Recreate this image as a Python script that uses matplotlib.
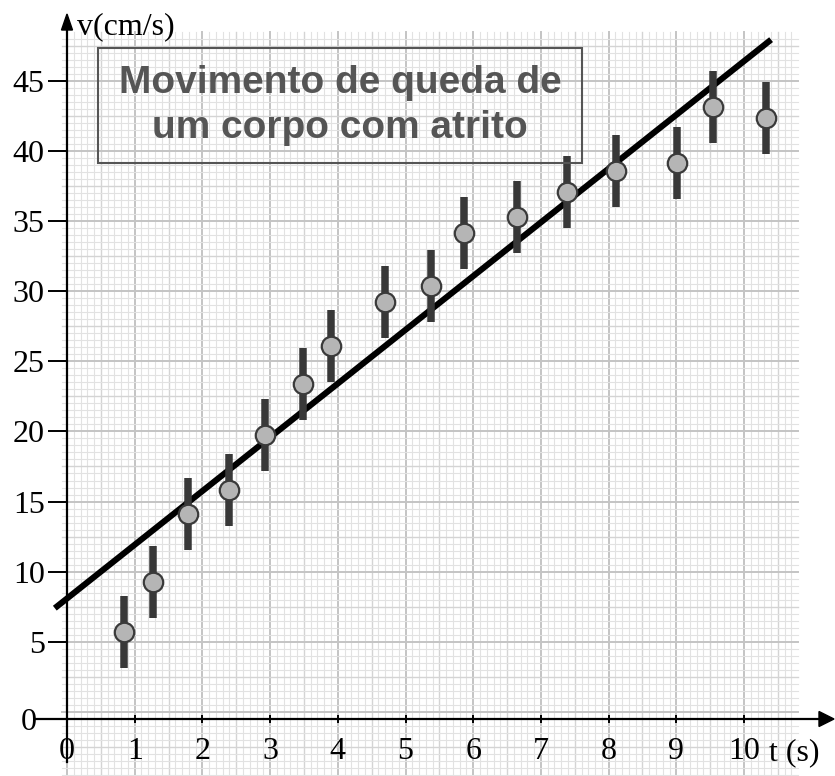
import matplotlib
matplotlib.use("Agg")
import matplotlib.pyplot as plt
import numpy as np
from matplotlib.patches import Rectangle, Polygon

# ---------------- data ----------------
t_values = [0.84, 1.27, 1.79, 2.39, 2.92, 3.49, 3.90, 4.70,
            5.38, 5.86, 6.65, 7.39, 8.11, 9.01, 9.54, 10.33]
v_values = [5.70, 9.27, 14.11, 15.82, 19.74, 23.38, 26.09, 29.22,
            30.36, 34.14, 35.28, 37.06, 38.56, 39.13, 43.12, 42.34]
v_error = 2.55
fit_intercept = 8.09
fit_slope = 3.83
fit_t_range = [-0.18, 10.40]
xtick_values = [0, 1, 2, 3, 4, 5, 6, 7, 8, 9, 10]
xtick_labels = ["0", "1", "2", "3", "4", "5", "6", "7", "8", "9", "10"]
ytick_values = [5, 10, 15, 20, 25, 30, 35, 40, 45]
ytick_labels = ["5", "10", "15", "20", "25", "30", "35", "40", "45"]
origin_label = "0"
title_lines = ["Movimento de queda de", "um corpo com atrito"]
xlabel = "t (s)"
ylabel = "v(cm/s)"

# ---------------- layout ----------------
W, H = 835, 776
X0, SX = 67.0, 67.7     # pixel of t=0, pixels per second
Y0, SY = 712.0, 14.03   # pixel of v=0, pixels per cm/s


def px2t(px):
    return (px - X0) / SX


def py2v(py):
    return (Y0 - py) / SY


axis_v = py2v(719)  # drawn horizontal axis level

fig = plt.figure(figsize=(W / 100, H / 100), dpi=100)
ax = fig.add_axes([0, 0, 1, 1])
ax.set_xlim(px2t(0), px2t(W))
ax.set_ylim(py2v(H), py2v(0))
ax.set_facecolor("white")
for s in ["top", "right"]:
    ax.spines[s].set_visible(False)

serif = "Liberation Serif"
sans = "Liberation Sans"

# ---------------- graph paper ----------------
gx0, gx1 = px2t(62), px2t(798)
gy0, gy1 = py2v(776), py2v(32)
for k in range(0, 109):
    x = k * 0.1
    if x > gx1:
        break
    if k % 10 == 0:
        c, lw = "#c4c4c4", 1.4
    elif k % 5 == 0:
        c, lw = "#d4d4d4", 1.0
    else:
        c, lw = "#e2e2e2", 0.8
    ax.plot([x, x], [gy0, gy1], color=c, lw=lw, zorder=0)
for k in range(-9, 98):
    y = k * 0.5
    if y < gy0 or y > gy1:
        continue
    if k % 10 == 0:
        c, lw = "#c4c4c4", 1.4
    elif k % 5 == 0:
        c, lw = "#d4d4d4", 1.0
    else:
        c, lw = "#e2e2e2", 0.8
    ax.plot([gx0, gx1], [y, y], color=c, lw=lw, zorder=0)

# ---------------- axes ----------------
ax.spines["left"].set_position(("data", 0))
ax.spines["bottom"].set_position(("data", axis_v))
ax.spines["left"].set_bounds(py2v(762), py2v(28))
ax.spines["bottom"].set_bounds(px2t(35), px2t(822))
for s in ["left", "bottom"]:
    ax.spines[s].set_linewidth(1.6)
    ax.spines[s].set_color("black")
    ax.spines[s].set_zorder(5)

ax.set_xticks(xtick_values)
ax.set_xticklabels(xtick_labels, fontfamily=serif, fontsize=23)
ax.tick_params(axis="x", direction="inout", length=6, width=1.4, pad=10)

ax.set_yticks([axis_v] + ytick_values)
ax.set_yticklabels([origin_label] + ytick_labels, fontfamily=serif, fontsize=23)
ax.tick_params(axis="y", direction="out", length=13.5, width=1.4, pad=2.5)
ax.set_yticks(ytick_values, minor=True)
ax.tick_params(axis="y", which="minor", direction="in", length=5, width=1.4)
ticks = ax.yaxis.get_major_ticks()
ticks[0].tick1line.set_visible(False)
ticks[0].set_pad(8)

# arrowheads
ax.add_patch(Polygon([[px2t(61.5), py2v(30)], [px2t(72.5), py2v(30)], [px2t(67), py2v(14)]],
                     closed=True, color="black", zorder=6, clip_on=False))
ax.add_patch(Polygon([[px2t(819), py2v(711.5)], [px2t(819), py2v(726.5)], [px2t(834), py2v(719)]],
                     closed=True, color="black", zorder=6, clip_on=False))

ax.text(px2t(77), py2v(34), ylabel, fontfamily=serif, fontsize=23, ha="left", va="baseline")
ax.text(px2t(769), py2v(760), xlabel, fontfamily=serif, fontsize=23, ha="left", va="baseline")

# ---------------- fit line ----------------
fit_t = np.array(fit_t_range)
ax.plot(fit_t, fit_intercept + fit_slope * fit_t, color="black", lw=4.4,
        solid_capstyle="butt", zorder=2)

# ---------------- data with error bars ----------------
ax.errorbar(t_values, v_values, yerr=v_error, fmt="none", ecolor="#383838",
            elinewidth=5.4, capsize=0, zorder=3)
ax.plot(t_values, v_values, "o", ms=14, mfc="#b5b5b5", mec="#3a3a3a", mew=1.6, zorder=4)

# ---------------- title box ----------------
bx0, bx1 = px2t(98), px2t(582)
by0, by1 = py2v(163), py2v(48)
ax.add_patch(Rectangle((bx0, by0), bx1 - bx0, by1 - by0, fill=False,
                       edgecolor="#555555", lw=1.5, zorder=5))
cx = (bx0 + bx1) / 2
ax.text(cx, py2v(93), title_lines[0], fontfamily=sans, fontweight="bold", fontsize=28,
        color="#555555", ha="center", va="baseline", zorder=6)
ax.text(cx, py2v(138), title_lines[1], fontfamily=sans, fontweight="bold", fontsize=28,
        color="#555555", ha="center", va="baseline", zorder=6)

fig.savefig("out.png", dpi=100)
